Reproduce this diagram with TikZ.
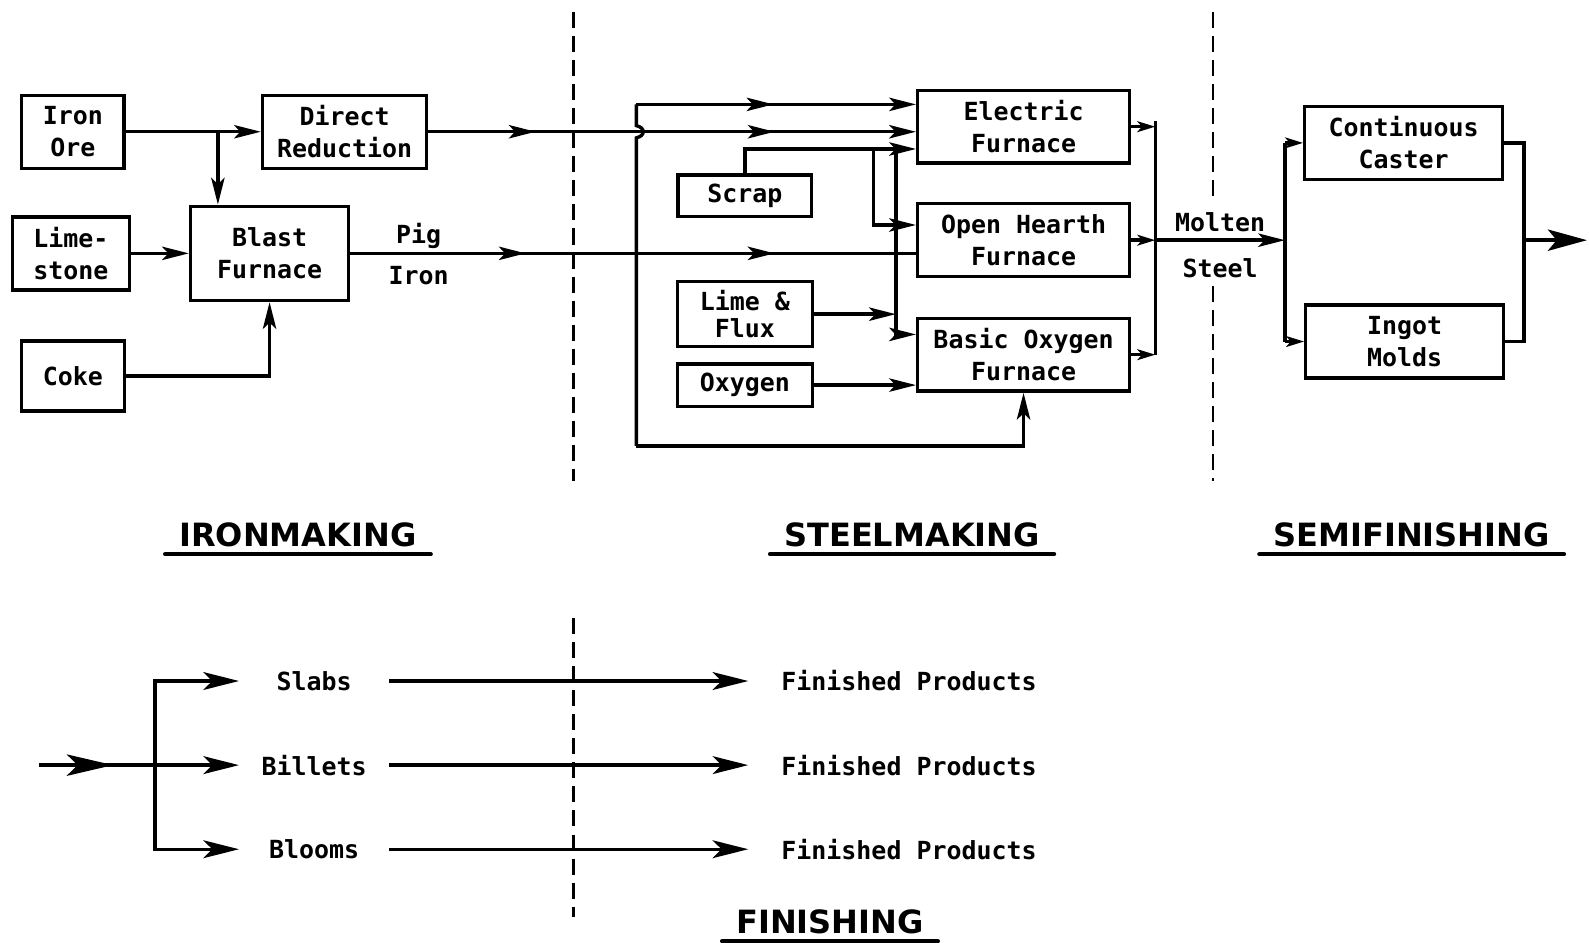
\documentclass[tikz,border=0pt]{standalone}
\usepackage{fontspec}
\setmainfont{DejaVu Sans Mono}
\newfontfamily\headfont{DejaVu Sans}
\usetikzlibrary{arrows.meta,calc,decorations.markings}
\newcommand{\drawdashed}{\draw[line width=1.6pt,dash pattern=on 9pt off 4.5pt]}
\newcommand{\stagehead}[3]{\node[stage] (#1) at (#2) {#3};
    \draw[line width=2.4pt,line cap=round] (#1.south west)--(#1.south east);}
\tikzset{
    plant/.style={draw,minimum width=#1,minimum height=1.44cm,align=center,inner sep=2pt},
    stage/.style={font=\headfont\bfseries\fontsize{18}{20}\selectfont,inner xsep=7pt,inner ysep=3pt},
    arr/.style={-{Stealth[length=15pt,width=7.5pt,inset=3.5pt]}},
    sarr/.style={-{Stealth[length=10pt,width=6pt,inset=2.5pt]}},
    farr/.style={-{Stealth[length=20pt,width=10pt,inset=5pt]}},
    bigarr/.style={-{Stealth[length=22pt,width=12pt,inset=5pt]}},
    midarr/.style={postaction={decorate},decoration={markings,mark=at position #1 with {\arrow{Stealth[length=15pt,width=7.5pt,inset=3.5pt]}}}},
    midarrs/.style 2 args={postaction={decorate},decoration={markings,
        mark=at position #1 with {\arrow{Stealth[length=15pt,width=7.5pt,inset=3.5pt]}},
        mark=at position #2 with {\arrow{Stealth[length=15pt,width=7.5pt,inset=3.5pt]}}}},
    bigmid/.style={postaction={decorate},decoration={markings,mark=at position #1 with {\arrow{Stealth[length=26pt,width=12pt,inset=6pt]}}}},
    form/.style={minimum width=2.9cm,inner sep=0pt},
    goods/.style={minimum width=6.28cm,inner sep=0pt}
}
\begin{document}
\begin{tikzpicture}[x=0.02cm,y=-0.02cm,line width=1.9pt,font=\bfseries\fontsize{14}{18}\selectfont]
\useasboundingbox (0,0) rectangle (1568,930);
\drawdashed (566,12)--(566,475);
\drawdashed (1197,12)--(1197,196);
\drawdashed (1197,282)--(1197,475);
\drawdashed (566,610)--(566,905);
\node[plant=2.02cm] (ore) at (72,130) {Iron\\Ore};
\node[plant=3.24cm] (dr) at (340,130) {Direct\\Reduction};
\node[plant=2.3cm] (lime) at (70,250) {Lime-\\stone};
\node[plant=3.12cm,minimum height=1.86cm] (bf) at (266,250) {Blast\\Furnace};
\node[plant=2.04cm,minimum height=1.38cm] (coke) at (72,371) {Coke};
\node[plant=2.64cm,minimum height=0.82cm] (scrap) at (735,193) {Scrap};
\node[plant=2.66cm,minimum height=1.28cm] (flux) at (735,310) {Lime \&\\[-3pt]Flux};
\node[plant=2.66cm,minimum height=0.84cm] (oxy) at (735,380) {Oxygen};
\node[plant=4.18cm] (ef) at (1010,125) {Electric\\Furnace};
\node[plant=4.18cm] (oh) at (1010,237) {Open Hearth\\Furnace};
\node[plant=4.18cm] (bof) at (1010,350) {Basic Oxygen\\Furnace};
\node[plant=3.9cm] (cc) at (1385,141) {Continuous\\Caster};
\node[plant=3.9cm] (im) at (1386,337) {Ingot\\Molds};
\node (pig) at (413,233) {Pig}; \node (pigb) at (413,272) {Iron};
\node (mol) at (1204,219) {Molten}; \node (mols) at (1204,265) {Steel};
\coordinate (j1) at (215,130);
\draw[arr] (ore)--(dr);
\draw[arr] (j1)--(j1 |- bf.north);
\draw[arr] (lime)--(bf);
\draw[arr] (coke) -| (bf);
\draw[arr,midarrs={0.22}{0.71}] (dr)--(dr -| ef.west);
\draw[midarrs={0.31}{0.75}] (bf)--(bf -| oh.west);
\coordinate (bt) at (628,103); \coordinate (bb) at (628,440);
\draw[arr,midarr=0.49] (bt)--(bt -| ef.west);
\draw (bt)--++(0,21) .. controls +(9,2) and +(9,-2) .. ++(0,12)--(bb);
\draw[arr] (bb) -| (bof);
\coordinate (sa) at (862,147); \coordinate (sb) at (884,147);
\draw[arr] (scrap) |- ($(ef.west)+(0,22)$);
\draw[arr] (sa) |- ($(oh.west)+(0,-15)$);
\draw[arr] (sb) |- ($(bof.west)+(0,-20)$);
\draw[arr] (flux)--(flux -| sb);
\draw[arr] (oxy)--(oxy -| bof.west);
\coordinate (rb) at (1140,0); \coordinate (cb) at (1268,0); \coordinate (ob) at (1504,0);
\draw[sarr] (ef)--(ef -| rb); \draw[sarr] (oh)--(oh -| rb); \draw[sarr] (bof)--(bof -| rb);
\draw ([yshift=3pt]ef -| rb)--(bof -| rb);
\draw[arr] (oh -| rb)--(oh -| cb);
\draw (cc -| cb)--(im -| cb);
\draw[sarr] (cc -| cb)--(cc); \draw[sarr] (im -| cb)--(im);
\draw (cc) -| (ob |- oh) |- (im);
\coordinate (out) at (1566,237);
\draw[bigarr] (ob |- oh)--(out);
\stagehead{iron}{294,528}{IRONMAKING}
\stagehead{steel}{900,528}{STEELMAKING}
\stagehead{semi}{1393,528}{SEMIFINISHING}
\stagehead{finish}{819,910}{FINISHING}
\coordinate (fin) at (38,755); \coordinate (fb) at (153,755);
\draw[bigmid=0.64] (fin)--(fb);
\foreach \n/\t/\y in {slabs/Slabs/672,billets/Billets/755,blooms/Blooms/838}{
    \node[form] (\n) at (310,\y) {\t};
    \node[goods] (fp\n) at (897,\y) {Finished Products};
    \draw[farr] (\n)--(fp\n);
}
\draw[farr] (fb) |- (slabs); \draw[farr] (fb)--(billets); \draw[farr] (fb) |- (blooms);
\end{tikzpicture}
\end{document}
